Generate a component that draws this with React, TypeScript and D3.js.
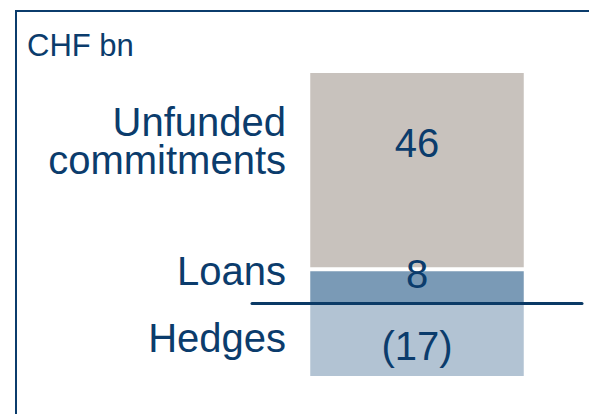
import React from "react";
import * as d3 from "d3";

const categories = ["Unfunded commitments", "Loans", "Hedges"];
const values = [46, 8, -17];
const valueLabels = ["46", "8", "(17)"];
const unitLabel = "CHF bn";
const colors = ["#c8c2bd", "#7a9ab6", "#b2c3d3"];

const W = 589;
const H = 414;
const TEXT = "#0b3c6c";
const FONT = "'Liberation Sans', Arial, Helvetica, sans-serif";

export default function App() {
  const stacks: { cat: string; v0: number; v1: number; color: string; label: string }[] = [];
  let pos = 0;
  let neg = 0;
  // stacking order: Loans at bottom, Unfunded on top, Hedges below zero
  const order = [1, 0, 2];
  order.forEach((i) => {
    const v = values[i];
    if (v >= 0) {
      stacks[i] = { cat: categories[i], v0: pos, v1: pos + v, color: colors[i], label: valueLabels[i] };
      pos += v;
    } else {
      stacks[i] = { cat: categories[i], v0: neg + v, v1: neg, color: colors[i], label: valueLabels[i] };
      neg += v;
    }
  });

  const y = d3.scaleLinear().domain([neg, pos]).range([376, 73]);
  const x = d3.scaleBand().domain(["bar"]).range([310, 524]).padding(0);
  const bx = x("bar") as number;
  const bw = x.bandwidth();
  const cx = bx + bw / 2;

  const labelX = 286;
  const catLines: { lines: string[]; baselines: number[] }[] = [
    { lines: ["Unfunded", "commitments"], baselines: [136, 174] },
    { lines: ["Loans"], baselines: [285] },
    { lines: ["Hedges"], baselines: [352] },
  ];
  const valueBaselineDy = [-14, 2, 20];

  const sepY = y(stacks[1].v1);

  return (
    <svg
      width={W}
      height={H}
      style={{ position: "absolute", left: 0, top: 0, display: "block" }}
      fontFamily={FONT}
    >
      <rect x={0} y={0} width={W} height={H} fill="#ffffff" />
      <rect x={16} y={11} width={700} height={600} fill="none" stroke="#0b3c6c" strokeWidth={2} />
      <text x={27} y={56} fontSize={31} fill={TEXT}>
        {unitLabel}
      </text>
      {stacks.map((s, i) => (
        <rect
          key={"r" + i}
          x={bx}
          y={y(s.v1)}
          width={bw}
          height={y(s.v0) - y(s.v1)}
          fill={s.color}
        />
      ))}
      <line x1={bx} x2={bx + bw} y1={sepY} y2={sepY} stroke="#ffffff" strokeWidth={4} />
      <line x1={bx} x2={bx} y1={y(pos)} y2={y(neg)} stroke="#ffffff" strokeWidth={1} opacity={0.5} />
      <line x1={bx + bw} x2={bx + bw} y1={y(pos)} y2={y(neg)} stroke="#ffffff" strokeWidth={1} opacity={0.5} />
      {stacks.map((s, i) => (
        <text
          key={"v" + i}
          x={cx}
          y={(y(s.v0) + y(s.v1)) / 2 + valueBaselineDy[i]}
          textAnchor="middle"
          fontSize={40}
          fill={TEXT}
        >
          {s.label}
        </text>
      ))}
      <line x1={252} x2={582} y1={y(0)} y2={y(0)} stroke="#0b3a66" strokeWidth={3} strokeLinecap="round" />
      {catLines.map((c, i) => (
        <text key={"c" + i} textAnchor="end" fontSize={40} fill={TEXT}>
          {c.lines.map((ln, j) => (
            <tspan key={j} x={labelX} y={c.baselines[j]}>
              {ln}
            </tspan>
          ))}
        </text>
      ))}
    </svg>
  );
}
